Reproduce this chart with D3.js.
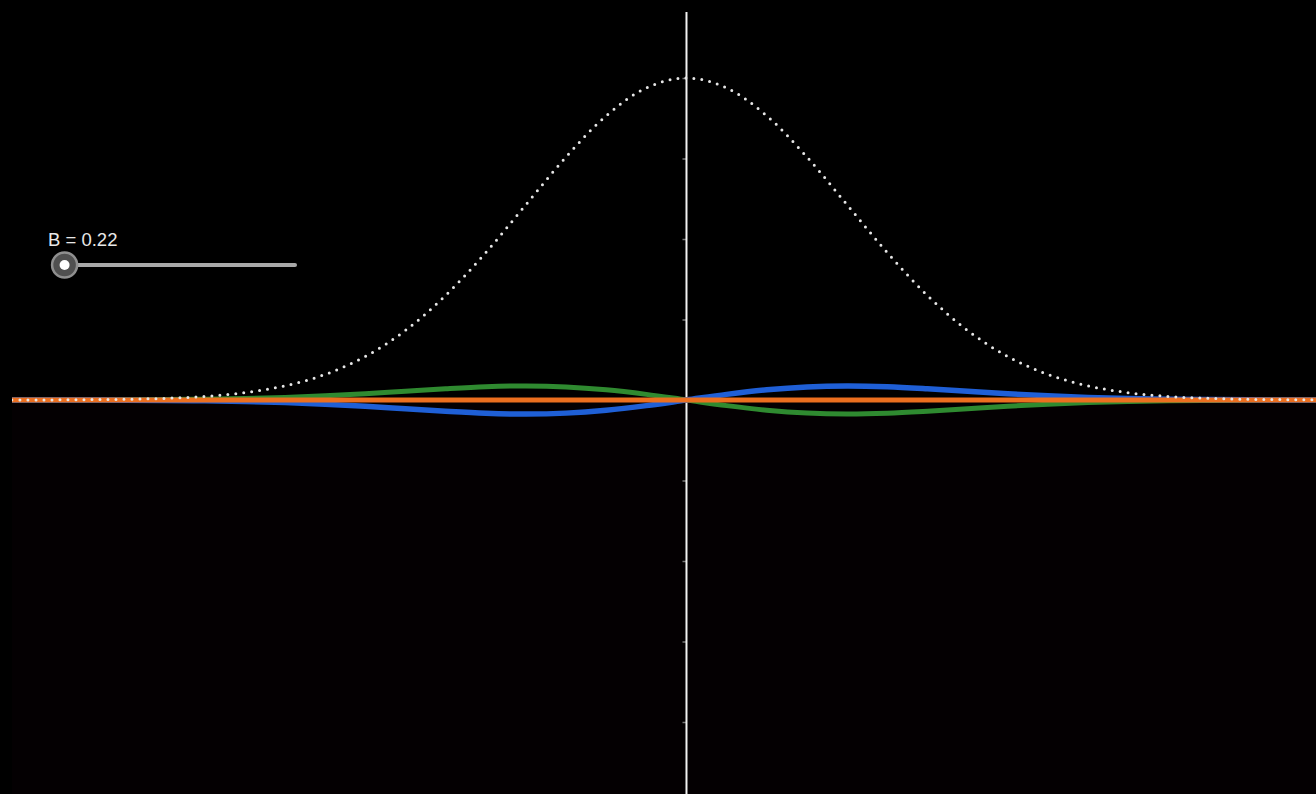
<!DOCTYPE html>
<html>
<head>
<meta charset="utf-8">
<script src="https://cdn.jsdelivr.net/npm/d3@7"></script>
<style>
  html, body { margin: 0; padding: 0; background: #000; overflow: hidden; }
  svg { display: block; }
</style>
</head>
<body>
<div id="chart"></div>
<script>
// x positions (in axis units), shared by every series
const xValues = [
  -8.5, -8, -7.5, -7, -6.5, -6, -5.5, -5, -4.5, -4, -3.5, -3, -2.5, -2, -1.5, -1, -0.5,
  0, 0.5, 1, 1.5, 2, 2.5, 3, 3.5, 4, 4.5, 5, 5.5, 6, 6.5, 7, 7.5, 8
];
// white dotted bell curve
const bellValues = [
  0, 0.001, 0.004, 0.009, 0.02, 0.044, 0.091, 0.176, 0.318, 0.541, 0.865, 1.299, 1.831, 2.426, 3.019, 3.53, 3.877,
  4.0, 3.877, 3.53, 3.019, 2.426, 1.831, 1.299, 0.865, 0.541, 0.318, 0.176, 0.091, 0.044, 0.02, 0.009, 0.004, 0.001
];
// green curve (above on the left, below on the right)
const greenValues = [
  0, 0, 0.001, 0.002, 0.005, 0.01, 0.018, 0.032, 0.052, 0.078, 0.109, 0.14, 0.165, 0.175, 0.163, 0.127, 0.07,
  0, -0.07, -0.127, -0.163, -0.175, -0.165, -0.14, -0.109, -0.078, -0.052, -0.032, -0.018, -0.01, -0.005, -0.002, -0.001, 0
];
// blue curve (mirror of green)
const blueValues = [
  0, 0, -0.001, -0.002, -0.005, -0.01, -0.018, -0.032, -0.052, -0.078, -0.109, -0.14, -0.165, -0.175, -0.163, -0.127, -0.07,
  0, 0.07, 0.127, 0.163, 0.175, 0.165, 0.14, 0.109, 0.078, 0.052, 0.032, 0.018, 0.01, 0.005, 0.002, 0.001, 0
];
// orange curve (flat)
const orangeValues = [
  0, 0, 0, 0, 0, 0, 0, 0, 0, 0, 0, 0, 0, 0, 0, 0, 0,
  0, 0, 0, 0, 0, 0, 0, 0, 0, 0, 0, 0, 0, 0, 0, 0, 0
];
const yTicks = [-4, -3, -2, -1, 1, 2, 3, 4];
const sliderLabel = "B = 0.22";
const sliderValue = 0.22;
const sliderDomain = [0.2, 2];

(function () {
  const W = 1316;
  const H = 794;
  const plot = { left: 12, top: 12, right: 1316, bottom: 794 };

  const svg = d3.select("#chart")
    .append("svg")
    .attr("width", W)
    .attr("height", H);

  const x = d3.scaleLinear().domain([-8.4, 7.84]).range([plot.left, plot.right]);
  const y = d3.scaleLinear().domain([0, 4]).range([400, 78]);

  // background
  svg.append("rect").attr("width", W).attr("height", H).attr("fill", "#000");
  svg.append("rect")
    .attr("x", plot.left).attr("y", y(0))
    .attr("width", plot.right - plot.left).attr("height", plot.bottom - y(0))
    .attr("fill", "#040002");

  svg.append("clipPath").attr("id", "clip")
    .append("rect")
    .attr("x", plot.left).attr("y", plot.top)
    .attr("width", plot.right - plot.left).attr("height", plot.bottom - plot.top);

  // axes
  const yAxis = d3.axisLeft(y).tickValues(yTicks).tickSize(4).tickFormat("");
  const ax = svg.append("g")
    .attr("transform", `translate(${x(0)},0)`)
    .call(yAxis);
  ax.select(".domain").remove();
  ax.selectAll(".tick line").attr("stroke", "#777").attr("stroke-width", 1.5);

  svg.append("line")
    .attr("x1", x(0)).attr("x2", x(0))
    .attr("y1", plot.top).attr("y2", plot.bottom)
    .attr("stroke", "#f2f2f2").attr("stroke-width", 2);

  svg.append("line")
    .attr("x1", plot.left).attr("x2", plot.right)
    .attr("y1", y(0)).attr("y2", y(0))
    .attr("stroke", "#ddd").attr("stroke-width", 1);

  const g = svg.append("g").attr("clip-path", "url(#clip)");

  function drawCurve(values, color, width, dash) {
    const line = d3.line()
      .x((d, i) => x(xValues[i]))
      .y((d) => y(d))
      .curve(d3.curveCatmullRom);
    const p = g.append("path")
      .datum(values)
      .attr("fill", "none")
      .attr("stroke", color)
      .attr("stroke-width", width)
      .attr("stroke-linecap", "round")
      .attr("d", line);
    if (dash) p.attr("stroke-dasharray", dash);
    return p;
  }

  drawCurve(greenValues, "#2f8a30", 5);
  drawCurve(blueValues, "#1f5fd6", 5.5);
  drawCurve(orangeValues, "#ec6f1f", 5);
  drawCurve(bellValues, "#e6e6e6", 3, "0 8");

  // slider
  const s = d3.scaleLinear().domain(sliderDomain).range([62, 295]).clamp(true);
  const slider = svg.append("g");
  slider.append("line")
    .attr("x1", s.range()[0]).attr("x2", s.range()[1])
    .attr("y1", 265).attr("y2", 265)
    .attr("stroke", "#a8a8a8").attr("stroke-width", 4)
    .attr("stroke-linecap", "round");
  slider.append("circle")
    .attr("cx", s(sliderValue)).attr("cy", 265).attr("r", 12.5)
    .attr("fill", "#505050").attr("stroke", "#8f8f8f").attr("stroke-width", 2.5);
  slider.append("circle")
    .attr("cx", s(sliderValue)).attr("cy", 265).attr("r", 5)
    .attr("fill", "#fff");
  slider.append("text")
    .attr("x", 48).attr("y", 246)
    .attr("fill", "#e8e8e8")
    .attr("font-family", "Liberation Sans, Arial, sans-serif")
    .attr("font-size", 18.5)
    .text(sliderLabel);
})();
</script>
</body>
</html>
